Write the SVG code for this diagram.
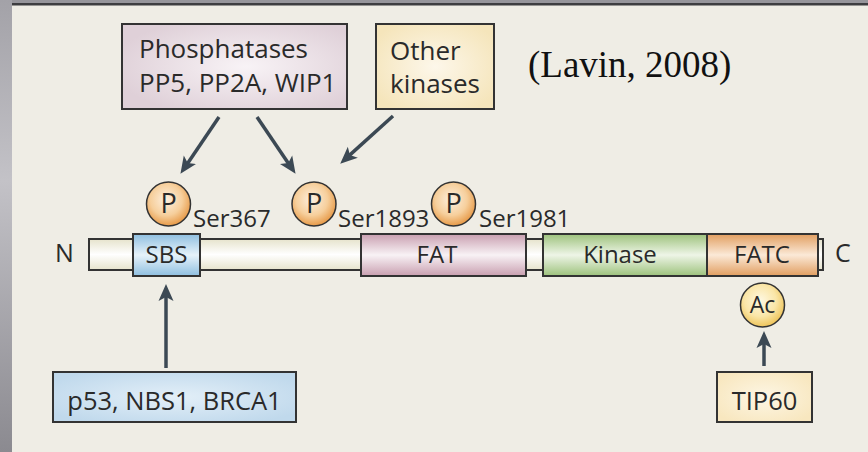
<svg xmlns="http://www.w3.org/2000/svg" width="868" height="452" viewBox="0 0 868 452">
  <style>
    .t { font-family: "Open Sans", "Noto Sans", "Liberation Sans", sans-serif; fill: #2a2a2a; }
    .box { stroke: #333; stroke-width: 2; }
    .dom { stroke: #333; stroke-width: 2; }
    .mark { stroke: #333; stroke-width: 1.5; }
    .arrow { stroke: #3c4954; stroke-width: 3.5; fill: none; marker-end: url(#head); }
  </style>
  <defs>
    <marker id="head" viewBox="0 -8 18 16" markerWidth="18" markerHeight="16" refX="8" refY="0" orient="auto" markerUnits="userSpaceOnUse">
      <path d="M0,-7.5 L17,0 L0,7.5 L4,0 z" fill="#3c4954"/>
    </marker>
    <linearGradient id="side" x1="0" y1="0" x2="0" y2="1">
      <stop offset="0" stop-color="#a3a2a8"/>
      <stop offset="0.4" stop-color="#c3c2c7"/>
      <stop offset="1" stop-color="#8b8a90"/>
    </linearGradient>
    <radialGradient id="gPhos" cx="0.55" cy="0.5" r="0.6">
      <stop offset="0" stop-color="#f8f3f6"/>
      <stop offset="1" stop-color="#dfd0d8"/>
    </radialGradient>
    <radialGradient id="gOther" cx="0.5" cy="0.5" r="0.6">
      <stop offset="0" stop-color="#fdf7ea"/>
      <stop offset="1" stop-color="#f5e5bb"/>
    </radialGradient>
    <radialGradient id="gBlueBox" cx="0.5" cy="0.5" r="0.6">
      <stop offset="0" stop-color="#e3eff8"/>
      <stop offset="1" stop-color="#c0d9ec"/>
    </radialGradient>
    <radialGradient id="gTip" cx="0.5" cy="0.5" r="0.6">
      <stop offset="0" stop-color="#fdf6e4"/>
      <stop offset="1" stop-color="#f8e7bf"/>
    </radialGradient>
    <linearGradient id="gBar" x1="0" y1="0" x2="0" y2="1">
      <stop offset="0" stop-color="#e6e3cc"/>
      <stop offset="0.5" stop-color="#ffffff"/>
      <stop offset="1" stop-color="#e6e3cc"/>
    </linearGradient>
    <linearGradient id="gSBS" x1="0" y1="0" x2="0" y2="1">
      <stop offset="0" stop-color="#8fbfe0"/>
      <stop offset="0.5" stop-color="#e6f2fa"/>
      <stop offset="1" stop-color="#8fbfe0"/>
    </linearGradient>
    <linearGradient id="gFAT" x1="0" y1="0" x2="0" y2="1">
      <stop offset="0" stop-color="#c99fb0"/>
      <stop offset="0.5" stop-color="#f8f2f5"/>
      <stop offset="1" stop-color="#c99fb0"/>
    </linearGradient>
    <linearGradient id="gKin" x1="0" y1="0" x2="0" y2="1">
      <stop offset="0" stop-color="#9dc27c"/>
      <stop offset="0.5" stop-color="#eef5e7"/>
      <stop offset="1" stop-color="#9dc27c"/>
    </linearGradient>
    <linearGradient id="gFATC" x1="0" y1="0" x2="0" y2="1">
      <stop offset="0" stop-color="#e19e60"/>
      <stop offset="0.5" stop-color="#fbe9d7"/>
      <stop offset="1" stop-color="#e19e60"/>
    </linearGradient>
    <radialGradient id="gP" cx="0.45" cy="0.4" r="0.6">
      <stop offset="0" stop-color="#fdf0e0"/>
      <stop offset="0.6" stop-color="#f6cf9c"/>
      <stop offset="1" stop-color="#e79a48"/>
    </radialGradient>
    <radialGradient id="gAc" cx="0.45" cy="0.4" r="0.6">
      <stop offset="0" stop-color="#fef8e2"/>
      <stop offset="0.6" stop-color="#fae6a8"/>
      <stop offset="1" stop-color="#eec45a"/>
    </radialGradient>
  </defs>

  <!-- page background and frame -->
  <rect x="0" y="0" width="868" height="452" fill="#efede5"/>
  <rect x="0" y="0" width="868" height="4" fill="#96959b"/>
  <rect x="12" y="3" width="856" height="2.5" fill="#3d3d40"/>
  <rect x="0" y="0" width="12" height="452" fill="url(#side)"/>

  <!-- citation -->
  <text x="528" y="77" font-family="'Liberation Serif', 'DejaVu Serif', serif" font-size="37" fill="#111">(Lavin, 2008)</text>

  <!-- regulators -->
  <g id="phosphatases">
    <rect class="box" x="122" y="24" width="225" height="85" fill="url(#gPhos)"/>
    <text class="t" x="139" y="58" font-size="26">Phosphatases</text>
    <text class="t" x="139" y="92" font-size="26">PP5, PP2A, WIP1</text>
  </g>
  <g id="other-kinases">
    <rect class="box" x="376" y="24" width="118" height="85" fill="url(#gOther)"/>
    <text class="t" x="390" y="60" font-size="26">Other</text>
    <text class="t" x="390" y="93" font-size="26">kinases</text>
  </g>
  <g id="p53-nbs1-brca1">
    <rect class="box" x="53" y="372" width="243" height="50" fill="url(#gBlueBox)"/>
    <text class="t" x="174.5" y="410" font-size="25.5" text-anchor="middle">p53, NBS1, BRCA1</text>
  </g>
  <g id="tip60">
    <rect class="box" x="717" y="372" width="95" height="50" fill="url(#gTip)"/>
    <text class="t" x="764.5" y="410" font-size="25.5" text-anchor="middle">TIP60</text>
  </g>

  <!-- ATM protein backbone -->
  <g id="atm">
    <rect class="dom" x="89" y="239" width="734" height="31" fill="url(#gBar)"/>
    <text class="t" x="55" y="262" font-size="25">N</text>
    <text class="t" x="835" y="262" font-size="25">C</text>
  </g>
  <g id="sbs">
    <rect class="dom" x="133" y="234" width="67" height="42" fill="url(#gSBS)"/>
    <text class="t" x="166.5" y="263" font-size="24" text-anchor="middle">SBS</text>
  </g>
  <g id="fat">
    <rect class="dom" x="361" y="234" width="165" height="42" fill="url(#gFAT)"/>
    <text class="t" x="437" y="263" font-size="24" text-anchor="middle">FAT</text>
  </g>
  <g id="kinase">
    <rect class="dom" x="543" y="234" width="164" height="42" fill="url(#gKin)"/>
    <text class="t" x="620" y="263" font-size="24" text-anchor="middle">Kinase</text>
  </g>
  <g id="fatc">
    <rect class="dom" x="707" y="234" width="111" height="42" fill="url(#gFATC)"/>
    <text class="t" x="762" y="263" font-size="24" text-anchor="middle">FATC</text>
  </g>

  <!-- modification sites -->
  <g id="ser367">
    <circle class="mark" cx="168.5" cy="204" r="22" fill="url(#gP)"/>
    <text class="t" x="168.5" y="213" font-size="27" text-anchor="middle">P</text>
    <text class="t" x="193" y="227" font-size="24">Ser367</text>
  </g>
  <g id="ser1893">
    <circle class="mark" cx="314" cy="204" r="22" fill="url(#gP)"/>
    <text class="t" x="314" y="213" font-size="27" text-anchor="middle">P</text>
    <text class="t" x="338" y="227" font-size="24">Ser1893</text>
  </g>
  <g id="ser1981">
    <circle class="mark" cx="453.5" cy="204" r="22" fill="url(#gP)"/>
    <text class="t" x="453.5" y="213" font-size="27" text-anchor="middle">P</text>
    <text class="t" x="479" y="227" font-size="24">Ser1981</text>
  </g>
  <g id="acetyl">
    <circle class="mark" cx="762.5" cy="305" r="22" fill="url(#gAc)"/>
    <text class="t" x="762.5" y="313" font-size="23" text-anchor="middle">Ac</text>
  </g>

  <!-- connectors -->
  <g id="connectors">
    <line class="arrow" x1="219" y1="117" x2="185.5" y2="166.4"/>
    <line class="arrow" x1="257" y1="117" x2="290.5" y2="166.4"/>
    <line class="arrow" x1="393" y1="116" x2="346.9" y2="157.6"/>
    <line class="arrow" x1="166" y1="368" x2="166" y2="293"/>
    <line class="arrow" x1="764" y1="366" x2="764" y2="340"/>
  </g>
</svg>
